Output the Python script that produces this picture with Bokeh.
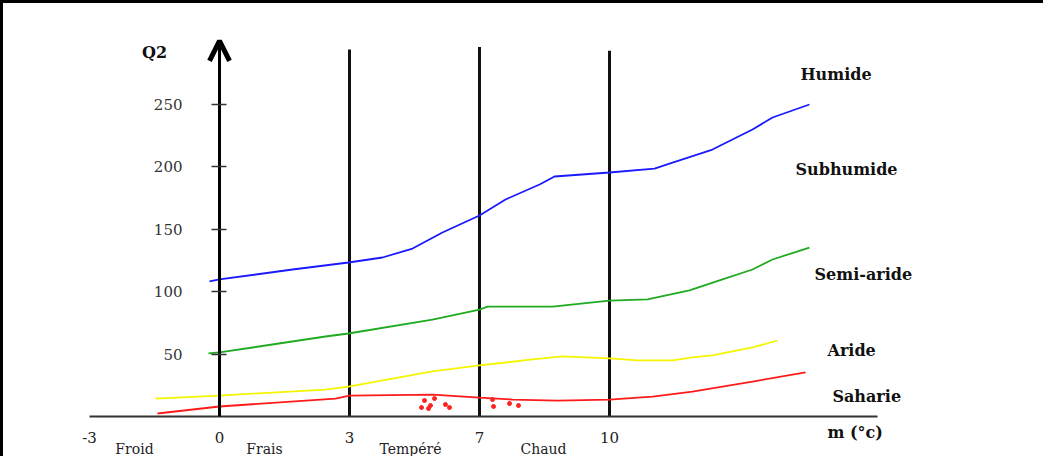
from bokeh.plotting import figure
from bokeh.models import Range1d, FixedTicker, Arrow, OpenHead
from bokeh.embed import file_html
from bokeh.resources import INLINE
from bokeh.core.properties import value

# ---- data (x = thermal class position: -3, 0, 3, 7, 10 °C boundaries equally spaced) ----
m_ticks = [-1, 0, 1, 2, 3]
m_labels = ["-3", "0", "3", "7", "10"]
q2_ticks = [50, 100, 150, 200, 250]

boundary_x = [1, 2, 3]
boundary_top = [294, 296, 293]

humide_x = [-0.077, 0.0, 0.562, 0.992, 1.254, 1.485, 1.715, 2.0, 2.2, 2.462, 2.577, 3.0, 3.346, 3.485, 3.792, 3.946, 4.1, 4.254, 4.538]
humide_y = [108.2, 109.8, 117.8, 123.4, 127.4, 134.6, 147.4, 161.1, 173.9, 185.9, 192.3, 195.5, 198.7, 203.5, 213.9, 222.0, 230.0, 239.6, 250.0]

semiaride_x = [-0.085, 0.0, 0.815, 0.992, 1.638, 2.0, 2.062, 2.562, 3.0, 3.292, 3.615, 3.869, 4.1, 4.254, 4.538]
semiaride_y = [50.5, 51.3, 64.1, 66.5, 77.7, 85.7, 88.1, 88.1, 92.9, 93.8, 101.0, 109.8, 117.8, 125.8, 135.4]

aride_x = [-0.492, 0.0, 0.815, 0.992, 1.638, 2.0, 2.408, 2.638, 3.0, 3.215, 3.485, 3.638, 3.792, 4.1, 4.292]
aride_y = [14.4, 16.8, 21.6, 24.0, 36.1, 40.9, 45.7, 48.1, 46.5, 44.9, 44.9, 47.3, 48.9, 55.3, 60.9]

saharie_x = [-0.477, 0.0, 0.892, 1.0, 1.638, 2.0, 2.254, 2.6, 3.0, 3.331, 3.638, 4.1, 4.508]
saharie_y = [2.4, 8.0, 14.4, 16.8, 17.6, 15.2, 13.6, 12.8, 13.6, 16.0, 20.0, 28.0, 35.3]

dots_x = [1.577, 1.654, 1.554, 1.608, 1.623, 1.738, 1.769, 2.1, 2.108, 2.231, 2.3]
dots_y = [12.8, 14.4, 7.2, 6.4, 8.8, 9.6, 7.2, 13.6, 8.0, 10.4, 8.8]

zone_names = ["Humide", "Subhumide", "Semi-aride", "Aride", "Saharie", "m (°c)"]
zone_x = [4.469, 4.431, 4.577, 4.677, 4.715, 4.677]
zone_y = [274.0, 197.9, 113.8, 52.9, 16.0, -12.8]

thermal_names = ["Froid", "Frais", "Tempéré", "Chaud"]
thermal_x = [-0.654, 0.346, 1.469, 2.492]
thermal_y = [-26.4, -26.4, -26.4, -26.4]

q2_title = ["Q2"]
q2_title_x = [-0.5]
q2_title_y = [291.7]

# ---- figure ----
W, H = 1043, 456
px_per_x = 130.0
px_per_y = 1.248
x0 = -(227 - 11) / px_per_x
y1 = (424 - 11) / px_per_y

p = figure(width=W, height=H,
           x_range=Range1d(x0, x0 + W / px_per_x),
           y_range=Range1d(y1 - H / px_per_y, y1),
           output_backend="svg", toolbar_location=None, min_border=0)
p.outline_line_color = None
p.xgrid.grid_line_color = None
p.ygrid.grid_line_color = None
p.styles = {"border-left": "3px solid black", "border-top": "3px solid black"}

serif = "DejaVu Serif"

# y axis at x = 0
ya = p.yaxis[0]
ya.fixed_location = 0
ya.bounds = (0, 301)
ya.ticker = FixedTicker(ticks=q2_ticks)
ya.axis_line_width = 3
ya.axis_line_color = "black"
ya.major_tick_in = 7
ya.major_tick_out = 8
ya.major_tick_line_width = 1.5
ya.major_tick_line_color = "#333333"
ya.minor_tick_line_color = None
ya.major_label_standoff = 29
ya.major_label_text_font = serif
ya.major_label_text_font_size = "15px"
ya.major_label_text_color = "#333333"

# x axis at y = 0
xa = p.xaxis[0]
xa.fixed_location = 0
xa.bounds = (-1, 5.06)
xa.ticker = FixedTicker(ticks=m_ticks)
xa.major_label_overrides = {t: l for t, l in zip(m_ticks, m_labels)}
xa.axis_line_width = 2
xa.axis_line_color = "#333333"
xa.major_tick_line_color = None
xa.minor_tick_line_color = None
xa.major_label_standoff = 9
xa.major_label_text_font = serif
xa.major_label_text_font_size = "15px"
xa.major_label_text_color = "#222222"

# arrow head on y axis
p.add_layout(Arrow(end=OpenHead(size=20, line_width=5, line_color="black"),
                   x_start=0, y_start=285, x_end=0, y_end=301,
                   line_width=3, line_color="black"))

# thermal class boundaries
p.segment(x0=boundary_x, y0=[0] * len(boundary_x), x1=boundary_x, y1=boundary_top,
          line_width=3, line_color="#111111")

# climate boundary curves
p.line(humide_x, humide_y, line_color="#1a1aff", line_width=1.8)
p.line(semiaride_x, semiaride_y, line_color="#1faa1f", line_width=1.8)
p.line(aride_x, aride_y, line_color="#f5f500", line_width=1.8)
p.line(saharie_x, saharie_y, line_color="#ff1a1a", line_width=1.8)
p.scatter(dots_x, dots_y, size=4, color="#ff2020")

# labels
p.text(x=zone_x, y=zone_y, text=zone_names, text_font=value(serif),
       text_font_style="bold", text_font_size="16px", text_color="#111111",
       text_align="left", text_baseline="middle")
p.text(x=thermal_x, y=thermal_y, text=thermal_names, text_font=value(serif),
       text_font_size="14px", text_color="#222222",
       text_align="center", text_baseline="middle")
p.text(x=q2_title_x, y=q2_title_y, text=q2_title, text_font=value(serif),
       text_font_style="bold", text_font_size="16px", text_color="#111111",
       text_align="center", text_baseline="middle")

open("out.html", "w").write(file_html(p, INLINE))
